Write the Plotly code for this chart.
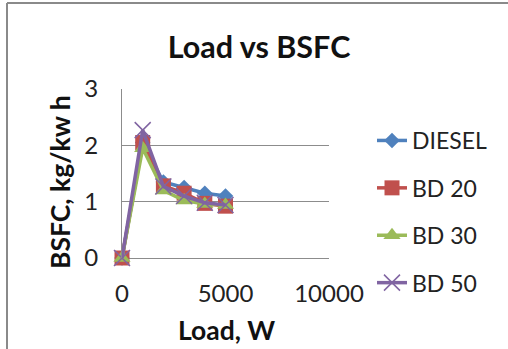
import plotly.graph_objects as go

load = [0, 1000, 2000, 3000, 4000, 5000]
diesel = [0, 2.05, 1.35, 1.25, 1.15, 1.1]
bd20 = [0, 2.05, 1.28, 1.15, 0.97, 0.92]
bd30 = [0, 1.95, 1.2, 1.02, 0.96, 0.94]
bd50 = [0, 2.27, 1.27, 1.1, 0.98, 0.94]

names = ["DIESEL", "BD 20", "BD 30", "BD 50"]
colors = ["#4F81BD", "#C0504D", "#9BBB59", "#8064A2"]
symbols = ["diamond", "square", "triangle-up", "x-thin"]
sizes = [12, 15, 15, 16]
series = [diesel, bd20, bd30, bd50]
xticks = [0, 5000, 10000]
xticktext = ["0", "5000", "10000"]
yticks = [0, 1, 2, 3]

FONT = "Lato, 'Open Sans', sans-serif"

fig = go.Figure()
for i, (nm, ys) in enumerate(zip(names, series)):
    mk = dict(symbol=symbols[i], size=sizes[i], color=colors[i])
    if symbols[i] == "x-thin":
        mk["line"] = dict(color=colors[i], width=1.5)
    fig.add_trace(go.Scatter(
        x=load, y=ys, name=nm, mode="lines+markers",
        line=dict(color=colors[i], width=3.5),
        marker=mk, legendgroup=nm, cliponaxis=False,
    ))

L, R, T, B = 122, 179, 89, 91
pw = 508 - L - R
ph = 349 - T - B

fig.update_layout(
    width=508, height=349,
    margin=dict(l=L, r=R, t=T, b=B, autoexpand=False),
    paper_bgcolor="white", plot_bgcolor="white",
    font=dict(family=FONT, size=23, color="#222"),
    title=dict(text="<b>Load vs BSFC</b>", x=259/508, xanchor="center",
               y=1-47/349, yanchor="middle", font=dict(size=30.5, color="#111")),
    showlegend=True,
    legend=dict(xref="container", yref="container",
                x=372/508, xanchor="left", y=1-119/349, yanchor="top",
                maxheight=400,
                tracegroupgap=14.5, font=dict(size=23, color="#222"),
                bgcolor="rgba(0,0,0,0)"),
    xaxis=dict(range=[0, 10000], tickvals=xticks, ticktext=xticktext,
               showgrid=False, zeroline=False, showline=False, automargin=False,
               ticks="", ticklabelstandoff=19, tickfont=dict(size=24, color="#222")),
    yaxis=dict(range=[0, 3], tickvals=yticks, automargin=False,
               showgrid=True, gridcolor="#8c8c8c", gridwidth=1,
               zeroline=True, zerolinecolor="#8c8c8c", zerolinewidth=1,
               showline=True, linecolor="#8c8c8c", linewidth=1,
               ticks="", ticklabelstandoff=18, tickfont=dict(size=24, color="#222")),
    annotations=[
        dict(text="<b>BSFC, kg/kw h</b>", textangle=-90, xref="paper", yref="paper",
             x=(60-L)/pw, y=(258-182)/ph, xanchor="center", yanchor="middle",
             showarrow=False, font=dict(size=26.5, color="#111")),
        dict(text="<b>Load, W</b>", xref="paper", yref="paper",
             x=(226-L)/pw, y=(258-330)/ph, xanchor="center", yanchor="middle",
             showarrow=False, font=dict(size=26.5, color="#111")),
    ],
    shapes=[
        dict(type="line", xref="paper", yref="paper",
             x0=(7-L)/pw, x1=(520-L)/pw, y0=(258-3)/ph, y1=(258-3)/ph,
             line=dict(color="#8a8a8a", width=2)),
        dict(type="line", xref="paper", yref="paper",
             x0=(7-L)/pw, x1=(7-L)/pw, y0=(258-3)/ph, y1=(258-360)/ph,
             line=dict(color="#8a8a8a", width=2)),
    ],
)
fig.write_html("out.html")
